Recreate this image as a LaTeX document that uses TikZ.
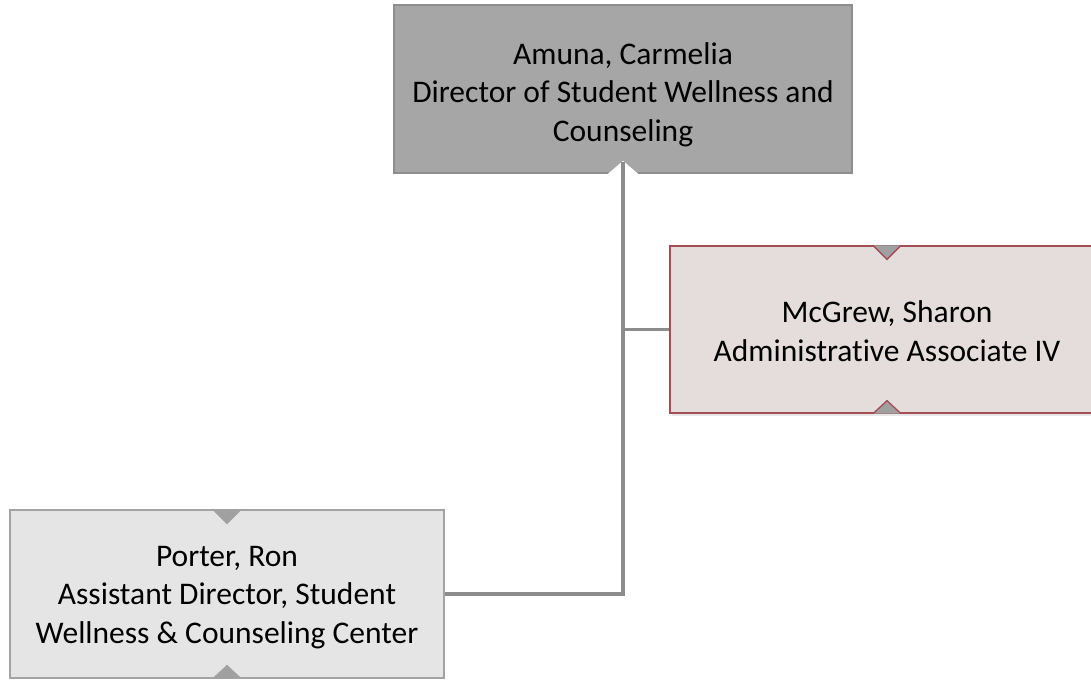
\documentclass[tikz,border=0pt]{standalone}
\usepackage{fontspec}
\setmainfont{Carlito}[Ligatures=NoCommon]
\usetikzlibrary{shadows}
\definecolor{topfill}{HTML}{A6A6A6}
\definecolor{topline}{HTML}{8E8E8E}
\definecolor{mcfill}{HTML}{E5DCDC}
\definecolor{mcline}{HTML}{A24D58}
\definecolor{pofill}{HTML}{E5E5E5}
\definecolor{poline}{HTML}{A3A3A3}
\definecolor{conncol}{HTML}{8C8C8C}
\definecolor{notchcol}{HTML}{A0A0A0}
\newcommand{\lowertext}[2]{\raisebox{-#1}[\height][\depth]{\begin{tabular}{@{}c@{}}#2\end{tabular}}}
\begin{document}
\begin{tikzpicture}[x=1pt,y=-1pt,
  orgbox/.style={line width=1.3pt, align=center, inner sep=0pt, text=black,
    font=\fontsize{31.5}{38.5}\selectfont},
  topbox/.style={orgbox, fill=topfill, draw=topline, minimum width=458pt, minimum height=168pt},
  mcbox/.style={orgbox, fill=mcfill, draw=mcline, minimum width=434pt, minimum height=167pt,
    drop shadow={opacity=0.18, shadow xshift=1.5pt, shadow yshift=-2.5pt}},
  pobox/.style={orgbox, fill=pofill, draw=poline, minimum width=434pt, minimum height=168pt},
  conn/.style={draw=conncol, line width=3.2pt},
  notchfill/.style={fill=notchcol}]
\useasboundingbox (0,0) rectangle (1091,680);

\node[topbox] (top) at (623,89) {\lowertext{6pt}{Amuna, Carmelia\\Director of Student Wellness and\\Counseling}};
\node[mcbox] (mcg) at (887,329.5) {\lowertext{5pt}{McGrew, Sharon\\Administrative Associate IV}};
\node[pobox] (por) at (227,594) {\lowertext{3pt}{Porter, Ron\\Assistant Director, Student\\Wellness \& Counseling Center}};

% notch of top box
\coordinate (tnotch) at ([yshift=12pt]top.south);
\filldraw[white, line width=1.2pt] ([xshift=-14pt]top.south) -- (tnotch) -- ([xshift=14pt]top.south) -- cycle;

% notches of McGrew box
\fill[notchfill] ([xshift=-14pt]mcg.north) -- ([xshift=14pt]mcg.north) -- ([yshift=-14pt]mcg.north) -- cycle;
\draw[mcline, line width=1.3pt] ([xshift=-14pt]mcg.north) -- ([yshift=-14pt]mcg.north) -- ([xshift=14pt]mcg.north);
\fill[notchfill] ([xshift=-14pt]mcg.south) -- ([xshift=14pt]mcg.south) -- ([yshift=13pt]mcg.south) -- cycle;
\draw[mcline, line width=1.3pt] ([xshift=-14pt]mcg.south) -- ([yshift=13pt]mcg.south) -- ([xshift=14pt]mcg.south);

% notches of Porter box
\fill[notchfill] ([xshift=-14pt]por.north) -- ([xshift=14pt]por.north) -- ([yshift=-14pt]por.north) -- cycle;
\draw[poline, line width=1.3pt] ([xshift=-14pt]por.north) -- ([yshift=-14pt]por.north) -- ([xshift=14pt]por.north);
\fill[notchfill] ([xshift=-14pt]por.south) -- ([xshift=14pt]por.south) -- ([yshift=13pt]por.south) -- cycle;
\draw[poline, line width=1.3pt] ([xshift=-14pt]por.south) -- ([yshift=13pt]por.south) -- ([xshift=14pt]por.south);

% connectors
\draw[conn] (tnotch) |- (mcg.west);
\draw[conn] (tnotch) |- (por.east);
\end{tikzpicture}
\end{document}
